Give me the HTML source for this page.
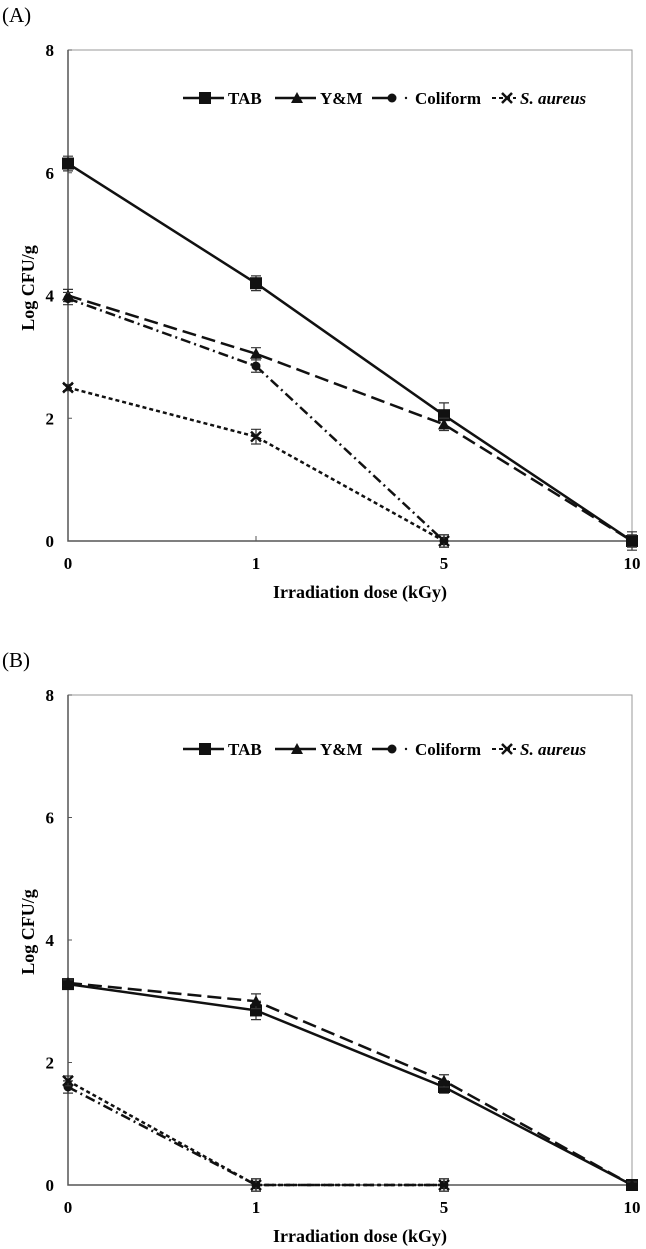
<!DOCTYPE html>
<html><head><meta charset="utf-8"><style>
body{margin:0;background:#fff;}
svg{display:block;font-family:"Liberation Serif",serif;}
</style></head><body>
<svg id="svg" width="646" height="1249" viewBox="0 0 646 1249"></svg>
<script>
const doses = ["0","1","5","10"];
const yTicks = [0,2,4,6,8];
const seriesNames = ["TAB","Y&M","Coliform","S. aureus"];
// Panel A
const aTAB = [6.15,4.2,2.05,0];
const aYM = [4.0,3.05,1.9,0];
const aColi = [3.95,2.85,0,null];
const aSA = [2.5,1.7,0,null];
const aErr = [[0.12,0.12,0.2,0.15],[0.1,0.1,0.1,0.1],[0.1,0.1,0.1,0],[0.05,0.12,0.1,0]];
// Panel B
const bTAB = [3.28,2.85,1.6,0];
const bYM = [3.3,3.0,1.7,0];
const bColi = [1.6,0,0,null];
const bSA = [1.7,0,0,null];
const bErr = [[0.08,0.15,0.1,0.05],[0.05,0.12,0.1,0.05],[0.1,0.1,0.1,0],[0.08,0.1,0.1,0]];

const NS="http://www.w3.org/2000/svg";
const svg=document.getElementById('svg');
function mk(tag,attrs,parent){const e=document.createElementNS(NS,tag);for(const k in attrs)e.setAttribute(k,attrs[k]);(parent||svg).appendChild(e);return e;}
const styles=[
 {dash:"none",marker:"square"},
 {dash:"14,6",marker:"triangle"},
 {dash:"10,4,2,4",marker:"circle"},
 {dash:"4,3",marker:"x"}
];
function marker(g,t,x,y){
 if(t==="square")return mk('rect',{x:x-6,y:y-6,width:12,height:12,fill:"#111"},g);
 if(t==="triangle")return mk('polygon',{points:`${x},${y-6} ${x-6},${y+5} ${x+6},${y+5}`,fill:"#111"},g);
 if(t==="circle")return mk('circle',{cx:x,cy:y,r:4.5,fill:"#111"},g);
 return mk('path',{d:`M${x-5} ${y-5}L${x+5} ${y+5}M${x+5} ${y-5}L${x-5} ${y+5}`,stroke:"#111","stroke-width":2.5},g);
}
function panel(label,top,zero,data,errs,legY){
 const L=68,R=632;
 const X=i=>L+(R-L)/3*i;
 const Y=v=>zero-(zero-top)/8*v;
 const g=mk('g',{});
 
 
 const t=mk('text',{x:2,y:top-28,"font-size":21},g);t.textContent='('+label+')';
 
 const f=mk('rect',{x:L,y:top,width:R-L,height:zero-top,fill:"none",stroke:"#999","stroke-width":1},g);
 
 const ax=mk('path',{d:`M${L} ${top}L${L} ${zero}L${R} ${zero}`,stroke:"#555","stroke-width":1.5,fill:"none"},g);
 
 yTicks.forEach(v=>{
  mk('line',{x1:L,x2:L+4,y1:Y(v),y2:Y(v),stroke:"#555"},g);
  const tt=mk('text',{x:L-14,y:Y(v)+6,"font-size":17,"font-weight":"bold","text-anchor":"end"},g);tt.textContent=v;
  
 });
 doses.forEach((d,i)=>{
  mk('line',{x1:X(i),x2:X(i),y1:zero,y2:zero-5,stroke:"#555"},g);
  const tt=mk('text',{x:X(i),y:zero+28,"font-size":17,"font-weight":"bold","text-anchor":"middle"},g);tt.textContent=d;
  
 });
 const xt=mk('text',{x:360,y:zero+57,"font-size":18,"font-weight":"bold","text-anchor":"middle"},g);xt.textContent='Irradiation dose (kGy)';
 
 const cy=zero-253;
 const yt=mk('text',{x:0,y:0,"font-size":18,"font-weight":"bold","text-anchor":"middle",transform:`translate(34,${cy}) rotate(-90)`},g);yt.textContent='Log CFU/g';
 
 data.forEach((arr,s)=>{
  const sg=mk('g',{},g);
  
  
  const pts=arr.map((v,i)=>v===null?null:[X(i),Y(v)]).filter(p=>p);
  mk('polyline',{points:pts.map(p=>p.join(',')).join(' '),fill:"none",stroke:"#111","stroke-width":2.5,"stroke-dasharray":styles[s].dash},sg);
  arr.forEach((v,i)=>{
   if(v===null)return;
   const e=errs[s][i];
   if(e>0){mk('path',{d:`M${X(i)} ${Y(v+e)}L${X(i)} ${Y(v-e)}M${X(i)-5} ${Y(v+e)}L${X(i)+5} ${Y(v+e)}M${X(i)-5} ${Y(v-e)}L${X(i)+5} ${Y(v-e)}`,stroke:"#333","stroke-width":1.2},sg);}
   const m=marker(sg,styles[s].marker,X(i),Y(v));
   
  });
 });
 const lg=mk('g',{},g);
 
 const items=[{x0:183,tx:228,txt:"TAB"},{x0:275,tx:320,txt:"Y&M"},{x0:372,tx:415,txt:"Coliform"},{x0:492,tx:520,txt:"S. aureus",it:true}];
 items.forEach((it,s)=>{
  const eg=mk('g',{},lg);
  
  const x1=it.tx-4;
  if(s<2){mk('line',{x1:it.x0,x2:x1,y1:legY,y2:legY,stroke:"#111","stroke-width":2.5},eg);}
  else if(s===2){mk('line',{x1:it.x0,x2:it.x0+24,y1:legY,y2:legY,stroke:"#111","stroke-width":2.5},eg);mk('circle',{cx:it.x0+34,cy:legY,r:1.2,fill:"#111"},eg);}
  else{mk('line',{x1:it.x0,x2:x1,y1:legY,y2:legY,stroke:"#111","stroke-width":2,"stroke-dasharray":"4,3"},eg);}
  const mx=s===0?205:s===1?297:s===2?392:507;
  marker(eg,styles[s].marker,mx,legY);
  const tt=mk('text',{x:it.tx,y:legY+6,"font-size":17,"font-weight":"bold","font-style":it.it?"italic":"normal"},eg);tt.textContent=it.txt;
 });
}
panel("A",50,541,[aTAB,aYM,aColi,aSA],aErr,98);
panel("B",695,1185,[bTAB,bYM,bColi,bSA],bErr,749);
</script>
</body></html>
